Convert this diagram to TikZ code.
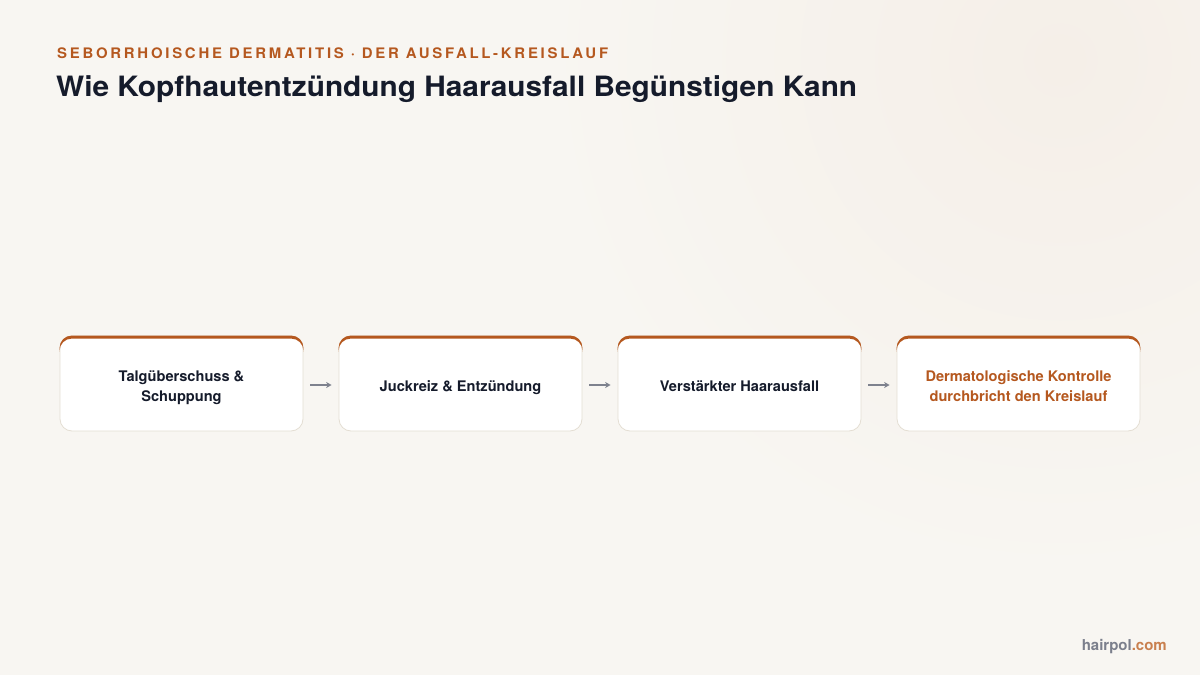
\documentclass[tikz,border=0pt]{standalone}
\usepackage{fontspec}
\setmainfont{TeX Gyre Heros}
\newfontfamily\spacedfont[LetterSpace=19,FakeStretch=1.03]{TeX Gyre Heros}
\newfontfamily\widefont[FakeStretch=1.065]{TeX Gyre Heros}
\usetikzlibrary{arrows.meta}
\definecolor{bgcol}{HTML}{F8F6F2}
\definecolor{glowcol}{HTML}{F5EFE8}
\definecolor{accent}{HTML}{B5581F}
\definecolor{inkcol}{HTML}{151B2B}
\definecolor{bordercol}{HTML}{E4DED3}
\definecolor{arrowcol}{HTML}{7E828E}
\definecolor{greycol}{HTML}{7B7F8C}
\definecolor{comcol}{HTML}{C9804F}
\tikzset{
  stepbox/.style={draw=bordercol, line width=0.8pt, fill=white, rounded corners=12pt,
    minimum width=243pt, minimum height=95pt, inner sep=0pt, align=center,
    font=\bfseries\fontsize{14.6}{20}\selectfont, text=inkcol},
  flow/.style={draw=arrowcol, line width=1.3pt, -{Stealth[length=5.5pt,width=6pt]}},
}
\newcommand\steptext[1]{\raisebox{0pt}[\dimexpr\height+7pt\relax][\depth]{\begin{tabular}{@{}c@{}}#1\end{tabular}}}
\newcommand\topbar[1]{%
  \begin{scope}
    \clip ([yshift=2pt]#1.north west) rectangle ([yshift=-16pt]#1.north east);
    \fill[accent, even odd rule, rounded corners=12pt]
      (#1.north west) rectangle (#1.south east)
      ([yshift=-3pt]#1.north west) rectangle ([yshift=-3pt]#1.south east);
  \end{scope}}
\begin{document}
\begin{tikzpicture}[x=1pt,y=-1pt]
  \useasboundingbox (0,0) rectangle (1200,675);
  \fill[bgcol] (0,0) rectangle (1200,675);
  \begin{scope}
    \clip (0,0) rectangle (1200,675);
    \shade[inner color=glowcol, outer color=bgcol] (1060,60) circle (520);
  \end{scope}
  \node[anchor=base west, inner sep=0pt, text=accent, font=\spacedfont\bfseries\fontsize{14.5}{17}\selectfont] (sub) at (57,58.5) {SEBORRHOISCHE DERMATITIS · DER AUSFALL-KREISLAUF};
  \node[anchor=base west, inner sep=0pt, text=inkcol, font=\widefont\bfseries\fontsize{28}{32}\selectfont] (title) at (56,96.7) {Wie Kopfhautentzündung Haarausfall Begünstigen Kann};

  \node[stepbox] (b1) at (181.5,383.5) {\steptext{Talgüberschuss \&\\Schuppung}};
  \node[stepbox] (b2) at (460.5,383.5) {\steptext{Juckreiz \& Entzündung}};
  \node[stepbox] (b3) at (739.5,383.5) {\steptext{Verstärkter Haarausfall}};
  \node[stepbox, text=accent] (b4) at (1018.5,383.5) {\steptext{Dermatologische Kontrolle\\durchbricht den Kreislauf}};
  \topbar{b1}\topbar{b2}\topbar{b3}\topbar{b4}

  \draw[flow] ([xshift=7pt,yshift=-1.5pt]b1.east) -- ([xshift=-7pt,yshift=-1.5pt]b2.west);
  \draw[flow] ([xshift=7pt,yshift=-1.5pt]b2.east) -- ([xshift=-7pt,yshift=-1.5pt]b3.west);
  \draw[flow] ([xshift=7pt,yshift=-1.5pt]b3.east) -- ([xshift=-7pt,yshift=-1.5pt]b4.west);

  \node[anchor=base east, inner sep=0pt, font=\bfseries\fontsize{15}{18}\selectfont] (brand) at (1167,650) {\textcolor{greycol}{hairpol}\textcolor{comcol}{.com}};
\end{tikzpicture}
\end{document}
